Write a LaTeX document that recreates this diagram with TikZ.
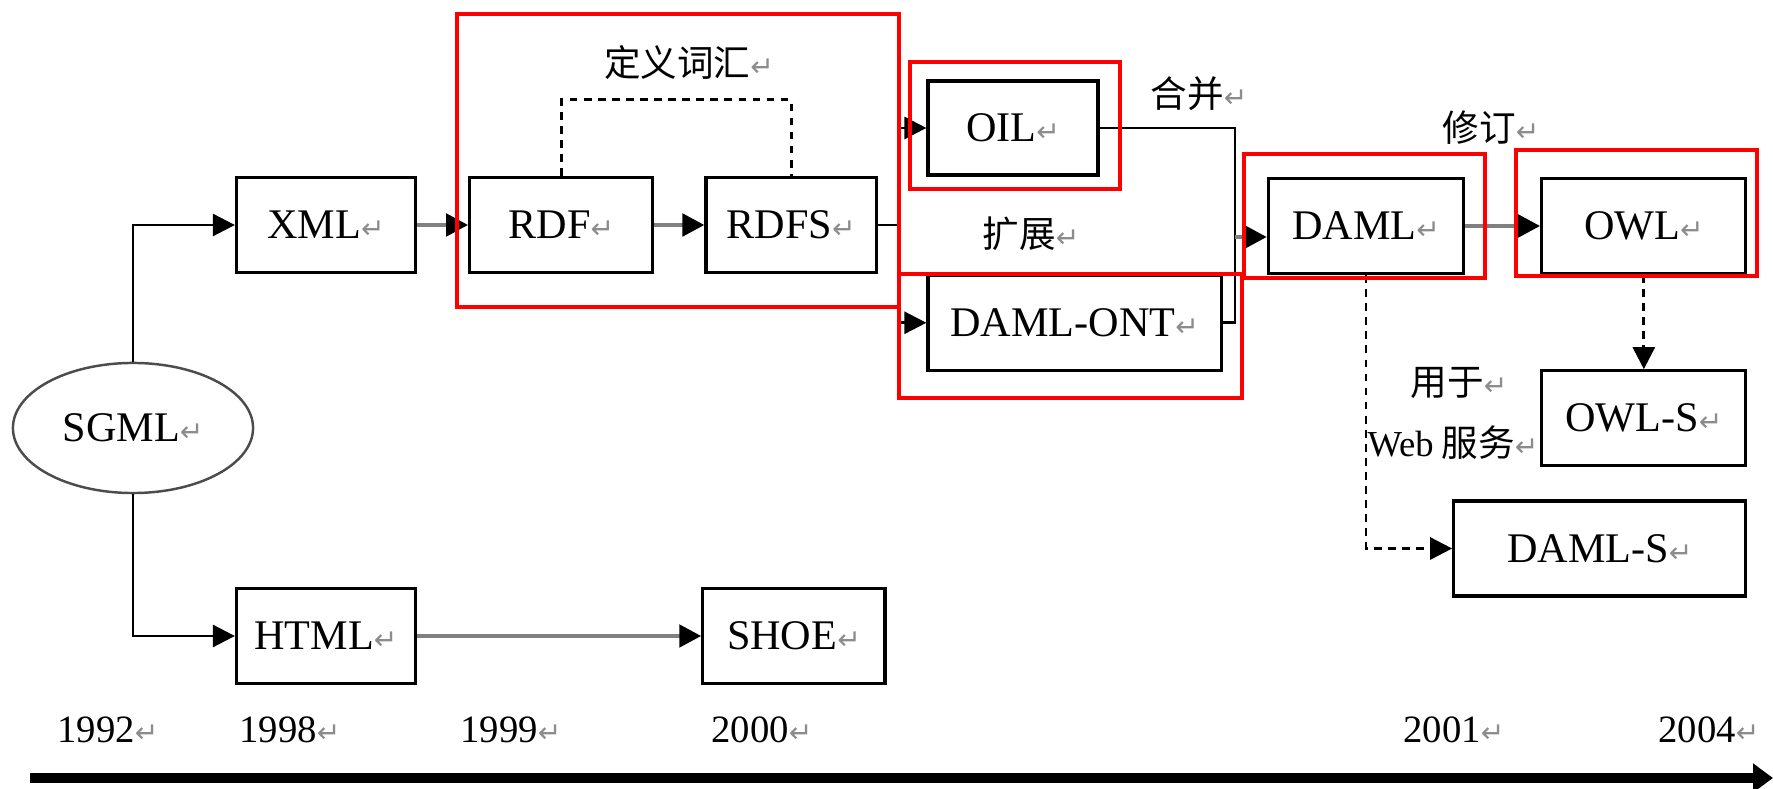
\documentclass[tikz,border=0pt]{standalone}
\usepackage{fontspec}
\setmainfont{Liberation Serif}
\newfontfamily\cjk{Noto Sans CJK SC}
\newfontfamily\retfont{DejaVu Sans}
\usetikzlibrary{positioning, arrows.meta, shapes.geometric}
\newcommand{\parmark}{{\retfont\fontsize{8}{8}\selectfont\color{black!45}↵}}

\begin{document}
\begin{tikzpicture}[
    x=0.01cm, y=-0.01cm,
    box/.style={
        rectangle, draw, line width=0.9pt, inner sep=2pt,
        minimum height=0.95cm, font=\fontsize{12}{14}\selectfont
    },
    oval/.style={
        ellipse, draw=black!70, line width=0.7pt, inner sep=0pt,
        minimum width=2.4cm, minimum height=1.3cm,
        font=\fontsize{12}{14}\selectfont
    },
    flow/.style={-{Triangle[length=0.22cm, width=0.22cm, color=black]},
        draw=black!50, line width=1.4pt},
    link/.style={-{Triangle[length=0.22cm, width=0.22cm]}, line width=0.8pt},
    wire/.style={line width=0.8pt},
    dlink/.style={link, dash pattern=on 2.2pt off 1.8pt},
    dwire/.style={wire, dash pattern=on 2.2pt off 1.8pt},
    tag/.style={font=\cjk\fontsize{10.4}{12}\selectfont, inner sep=0pt},
    year/.style={font=\fontsize{11}{13}\selectfont, inner sep=0pt},
    redframe/.style={draw=red, line width=1.4pt},
    timeline/.style={-{Triangle[length=0.2cm, width=0.28cm]}, line width=2.8pt}
]
\useasboundingbox (0,0) rectangle (1773,789);

%% ---- Roots ----
\node[oval] (sgml) at (133,428) {SGML\parmark};
\node[box, minimum width=1.79cm] (xml) at (326,225) {XML\parmark};
\node[box, minimum width=1.79cm] (html) at (326,636) {HTML\parmark};
\node[box, minimum width=1.82cm, right=2.84cm of html] (shoe) {SHOE\parmark};

%% ---- RDF family ----
\node[box, minimum width=1.83cm, right=0.51cm of xml] (rdf) {RDF\parmark};
\node[box, minimum width=1.70cm, right=0.50cm of rdf] (rdfs) {RDFS\parmark};
\node[tag] (vocab) at (689,63) {定义词汇\parmark};

%% ---- OIL / DAML-ONT ----
\node[box, minimum width=1.70cm, minimum height=0.94cm] (oil) at (1013,128) {OIL\parmark};
\node[box, minimum width=2.93cm, below right=0.97cm and 0cm of oil.south west] (damlont) {DAML-ONT\parmark};
\node[tag] (extlbl) at (1031,234) {扩展\parmark};
\node[tag] (mergelbl) at (1199,94) {合并\parmark};

%% ---- DAML / OWL ----
\node[box, minimum width=1.95cm] (daml) at (1366,226) {DAML\parmark};
\node[box, minimum width=2.04cm, right=0.75cm of daml] (owl) {OWL\parmark};
\node[box, minimum width=2.04cm, below=0.94cm of owl] (owls) {OWL-S\parmark};
\node[box, minimum width=2.92cm, below left=0.32cm and 0cm of owls.south east] (damls) {DAML-S\parmark};
\node[tag] (revlbl) at (1491,128) {修订\parmark};
\node[tag] (uselbl) at (1459,383) {用于\parmark};
\node[tag] (weblbl) at (1453,443) {{\rmfamily Web} 服务\parmark};

%% ---- Connectors ----
\coordinate (fork) at (899,225);
\coordinate (join) at (1235,237);

\draw[link] (sgml.north) |- (xml.west);
\draw[link] (sgml.south) |- (html.west);
\draw[flow] (xml) -- (rdf);
\draw[flow] (rdf) -- (rdfs);
\draw[dwire] (rdf.north) -- ++(0,-76) -| (rdfs.north);
\draw[wire] (rdfs.east) -- (fork);
\draw[link] (fork) |- (oil.west);
\draw[link] (fork) |- (damlont.west);
\draw[wire] (oil.east) -| (join) |- (damlont.east);
\draw[flow] (join) -- (join -| daml.west);
\draw[flow] (daml) -- (owl);
\draw[dlink] (owl) -- (owls);
\draw[dlink] (daml.south) |- (damls.west);
\draw[flow] (html) -- (shoe);

%% ---- Time axis ----
\foreach \yr/\xx in {1992/108, 1998/290, 1999/511, 2000/762, 2001/1454, 2004/1709}
    \node[year] (y\yr) at (\xx,730) {\yr\parmark};
\coordinate (tstart) at (30,778);
\coordinate (tend) at (1773,778);
\draw[timeline] (tstart) -- (tend);

%% ---- Highlight frames ----
\draw[redframe] (457,14) rectangle (899,307);
\draw[redframe] (910,62) rectangle (1120,189);
\draw[redframe] (899,274) rectangle (1242,398);
\draw[redframe] (1244,154) rectangle (1485,278);
\draw[redframe] (1516,150) rectangle (1757,276);

\end{tikzpicture}
\end{document}
